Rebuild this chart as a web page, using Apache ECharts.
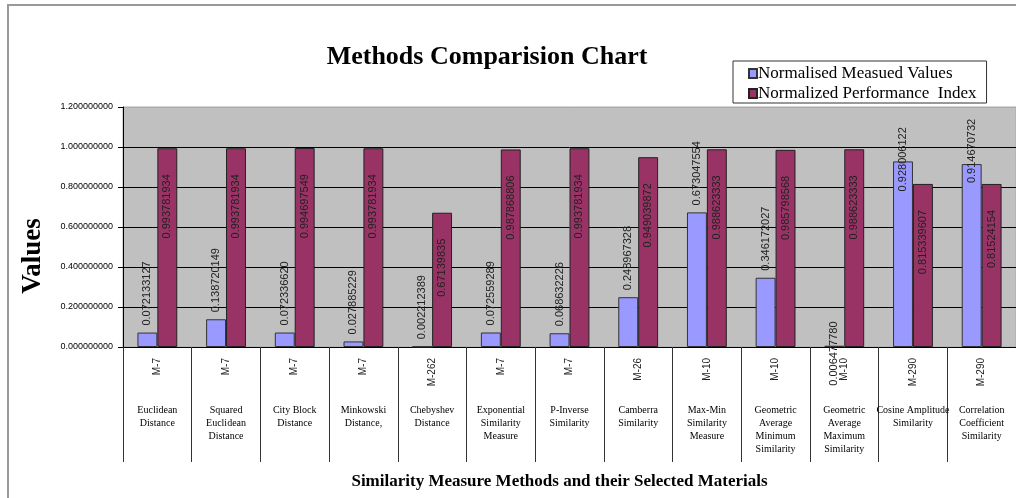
<!DOCTYPE html>
<html>
<head>
<meta charset="utf-8">
<script src="https://cdn.jsdelivr.net/npm/echarts@6/dist/echarts.min.js"></script>
<style>
  html, body { margin: 0; padding: 0; background: #fff; }
  #chart { width: 1016px; height: 498px; }
</style>
</head>
<body>
<div id="chart"></div>
<script>
// Material codes (first label row) and method names (second label row)
const materialCodes = ['M-7', 'M-7', 'M-7', 'M-7', 'M-262', 'M-7', 'M-7', 'M-26', 'M-10', 'M-10', 'M-10', 'M-290', 'M-290'];
const methodNames = [
  'Euclidean\nDistance',
  'Squared\nEuclidean\nDistance',
  'City Block\nDistance',
  'Minkowski\nDistance,',
  'Chebyshev\nDistance',
  'Exponential\nSimilarity\nMeasure',
  'P-Inverse\nSimilarity',
  'Camberra\nSimilarity',
  'Max-Min\nSimilarity\nMeasure',
  'Geometric\nAverage\nMinimum\nSimilarity',
  'Geometric\nAverage\nMaximum\nSimilarity',
  'Cosine Amplitude\nSimilarity',
  'Correlation\nCoefficient\nSimilarity'
];
// Values kept as written so the labels print the same digits
const measuredValues = ['0.072133127', '0.138720149', '0.072336620', '0.027885229', '0.002212389', '0.072559289', '0.068632226', '0.248967328', '0.673047554', '0.346172027', '0.006477780', '0.928006122', '0.914670732'];
const performanceIndex = ['0.993781934', '0.993781934', '0.994697549', '0.993781934', '0.67139835', '0.987868806', '0.993781934', '0.949039872', '0.988623333', '0.985798568', '0.988623333', '0.815339607', '0.81524154'];
const yTicks = { min: 0, max: 1.2, step: 0.2 };

const chart = echarts.init(document.getElementById('chart'), null, { renderer: 'canvas' });

const labelFont = { fontFamily: 'Liberation Sans, Arial, sans-serif', fontSize: 11, color: '#222' };

// Measured-value bars: labels sit above the bar; a few are pushed down
// (offsets are in the rotated label frame, so -x moves the text downward)
const measuredData = measuredValues.map((v, i) => {
  const item = { value: Number(v) };
  if (i === 10) item.label = { offset: [-47, 0] };
  if (i === 11) item.label = { offset: [-37, 0] };
  if (i === 12) item.label = { offset: [-26, 0] };
  return item;
});

chart.setOption({
  animation: false,
  backgroundColor: '#ffffff',
  title: {
    text: 'Methods Comparision Chart',
    left: 482,
    textAlign: 'center',
    top: 39,
    textStyle: { fontFamily: 'Liberation Serif, Times New Roman, serif', fontWeight: 'bold', fontSize: 26, color: '#000' }
  },
  legend: {
    orient: 'vertical',
    left: 733,
    top: 61,
    padding: [4, 10, 1, 15],
    itemGap: 3,
    itemWidth: 8,
    itemHeight: 9,
    icon: 'rect',
    backgroundColor: '#fff',
    borderColor: '#333',
    borderWidth: 1,
    textStyle: { fontFamily: 'Liberation Serif, Times New Roman, serif', fontSize: 17, color: '#000', padding: [0, 0, 0, -4] },
    data: ['Normalised Measued Values', 'Normalized Performance  Index']
  },
  grid: { left: 123, top: 107, width: 896, height: 240, show: true, backgroundColor: '#C0C0C0', borderColor: '#aaa', borderWidth: 1 },
  xAxis: [
    {
      type: 'category',
      position: 'bottom',
      data: materialCodes,
      name: 'Similarity Measure Methods and their Selected Materials',
      nameLocation: 'middle',
      nameGap: 126,
      nameTextStyle: { fontFamily: 'Liberation Serif, Times New Roman, serif', fontWeight: 'bold', fontSize: 17, color: '#000', padding: [0, 20, 0, 0] },
      axisLine: { show: true, lineStyle: { color: '#000', width: 1 } },
      axisTick: { show: true, interval: 0, length: 115, lineStyle: { color: '#333' } },
      axisLabel: { interval: 0, rotate: 90, margin: 11, fontFamily: 'Liberation Sans, Arial, sans-serif', fontSize: 10, color: '#222' }
    },
    {
      type: 'category',
      position: 'bottom',
      data: methodNames,
      axisLine: { show: false },
      axisTick: { show: false },
      axisLabel: { interval: 0, margin: 57, fontFamily: 'Liberation Serif, Times New Roman, serif', fontSize: 10, lineHeight: 13, color: '#000' }
    }
  ],
  yAxis: {
    type: 'value',
    min: yTicks.min,
    max: yTicks.max,
    interval: yTicks.step,
    name: 'Values',
    nameLocation: 'middle',
    nameRotate: 90,
    nameGap: 76,
    nameTextStyle: { fontFamily: 'Liberation Serif, Times New Roman, serif', fontWeight: 'bold', fontSize: 27, color: '#000', padding: [0, 58, 0, 0] },
    axisLine: { show: true, lineStyle: { color: '#000', width: 1 } },
    axisTick: { show: true, length: 5, lineStyle: { color: '#000' } },
    axisLabel: { margin: 10, formatter: v => v.toFixed(9), fontFamily: 'Liberation Sans, Arial, sans-serif', fontSize: 9, color: '#000' },
    splitLine: { show: true, lineStyle: { color: ['#000', '#000', '#000', '#000', '#000', '#000', '#aaa'], width: 1 } }
  },
  series: [
    {
      name: 'Normalised Measued Values',
      type: 'bar',
      data: measuredData,
      barGap: '0%',
      barCategoryGap: '42%',
      itemStyle: { color: '#9999FF', borderColor: '#333', borderWidth: 1 },
      label: Object.assign({
        show: true, position: 'top', distance: 7, rotate: 90, align: 'left', verticalAlign: 'middle',
        formatter: p => measuredValues[p.dataIndex]
      }, labelFont)
    },
    {
      name: 'Normalized Performance  Index',
      type: 'bar',
      data: performanceIndex.map(Number),
      itemStyle: { color: '#993366', borderColor: '#222', borderWidth: 1 },
      label: Object.assign({
        show: true, position: 'insideTop', distance: 26, rotate: 90, align: 'right', verticalAlign: 'middle',
        formatter: p => performanceIndex[p.dataIndex]
      }, labelFont)
    }
  ],
  graphic: [
    {
      type: 'polyline',
      silent: true,
      shape: { points: [[8, 498], [8, 5], [1016, 5]] },
      style: { stroke: '#999', lineWidth: 2, fill: null }
    }
  ]
});
</script>
</body>
</html>
